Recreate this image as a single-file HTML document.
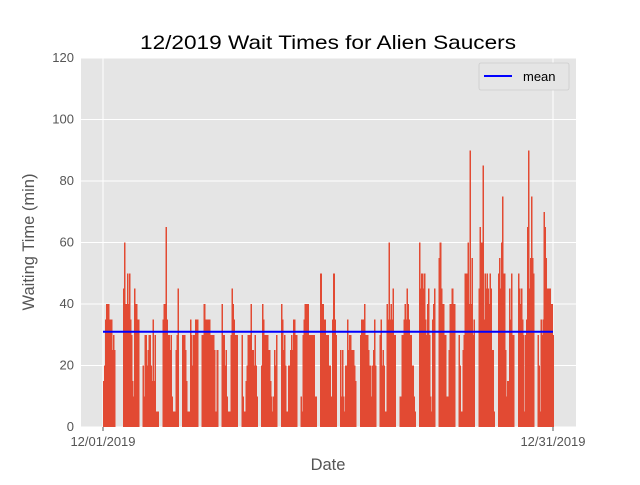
<!DOCTYPE html>
<html><head><meta charset="utf-8"><style>
body{margin:0;background:#fff;}
svg text{font-family:"Liberation Sans","DejaVu Sans",sans-serif;}
</style></head><body>
<svg id="chart" width="640" height="480" xmlns="http://www.w3.org/2000/svg">
<rect x="81" y="58" width="495" height="369" fill="#E5E5E5"/>
<g id="grid"></g>
<g id="bars" shape-rendering="crispEdges"></g>
<g id="meanline"></g>
<g id="ticks"></g>
<text x="328" y="49" font-size="19.5" text-anchor="middle" fill="#000" textLength="376" lengthAdjust="spacingAndGlyphs">12/2019 Wait Times for Alien Saucers</text>
<text x="328" y="470" font-size="16.5" text-anchor="middle" fill="#555">Date</text>
<text transform="translate(34,242) rotate(-90)" font-size="16.5" text-anchor="middle" fill="#555">Waiting Time (min)</text>
<g>
<rect x="479" y="63" width="90" height="27" rx="2" fill="#E5E5E5" stroke="#ccc" stroke-width="0.8"/>
<line x1="484" y1="76" x2="512" y2="76" stroke="#0000FF" stroke-width="2"/>
<text x="523" y="81" font-size="13" fill="#000">mean</text>
</g>
</svg>
<script>
const groupValues = [
[15,20,35,40,40,40,35,35,35,25,30,25],
[45,60,40,40,50,40,50,35,30,15,10,45,40,40,35,35],
[20,10,30,30,20,25,30,30,20,15,35,15,30,5,5,5],
[35,40,40,65,35,30,30,25,30,10,5,5,5,25,30,45],
[30,30,30,25,15,5,5,5,35,30,20,30,30,35,35,35],
[30,30,40,35,25,35,25,35,25,30,25,30,25,5,5,25],
[40,30,30,20,25,10,5,5,5,30,45,40,35,30,30,30],
[30,10,5,5,15,20,30,30,30,40,25,25,20,30,20,10],
[20,40,35,30,30,30,30,25,25,15,10,5,10,25,20,30],
[40,35,25,30,20,5,5,20,20,25,30,25,35,35,30,30],
[10,5,30,35,40,40,40,40,30,30,30,30,30,30,10,10],
[50,40,40,30,35,25,30,30,20,20,10,10,35,50,35,30],
[25,10,25,10,5,20,20,35,25,30,30,25,25,25,20,15],
[30,35,35,35,40,30,30,30,25,20,20,10,20,25,35,20],
[30,35,20,25,20,5,5,40,35,60,35,40,35,45,30,30],
[10,10,30,30,35,40,35,45,40,35,30,30,20,20,10,5],
[60,45,50,50,45,50,35,30,40,45,30,10,5,35,40,45],
[55,60,45,35,40,30,30,10,5,10,25,40,30,45,35,40],
[30,20,5,5,25,30,50,50,50,60,40,90,40,55,30,35],
[45,65,60,60,85,35,50,45,50,45,40,50,45,25,25,5],
[50,55,45,60,75,50,50,25,10,15,15,45,35,50,30,30],
[50,45,40,45,35,30,5,30,35,65,90,45,55,75,55,50],
[30,20,5,35,30,35,70,65,55,45,45,45,45,40,40,30]
];
const groupStartDays = [0,1.317,2.633,3.95,5.267,6.583,7.9,9.217,10.533,11.85,13.167,14.483,15.8,17.117,18.433,19.75,21.067,22.383,23.7,25.017,26.333,27.65,28.967];
const sampleStepDays = 1/15;
const yTicks = [0,20,40,60,80,100,120];
const xTickDays = [0,30];
const xTickLabels = ["12/01/2019","12/31/2019"];

const NS="http://www.w3.org/2000/svg";
const L=81,R=576,T=58,B=427;
const xMin=-22/15, xMax=30+23/15, yMin=0, yMax=120;
const xs=d=>L+(d-xMin)/(xMax-xMin)*(R-L);
const ys=v=>B-(v-yMin)/(yMax-yMin)*(B-T);
function mk(tag,attrs,parent){const e=document.createElementNS(NS,tag);for(const k in attrs)e.setAttribute(k,attrs[k]);parent.appendChild(e);return e;}
const grid=document.getElementById('grid'),bars=document.getElementById('bars'),ticks=document.getElementById('ticks'),ml=document.getElementById('meanline');
yTicks.forEach(v=>{
 const g=mk('line',{x1:L,x2:R,y1:ys(v),y2:ys(v),stroke:'#fff','stroke-width':1},grid);
 
 
 const t=mk('text',{x:L-7,y:ys(v)+4,'font-size':13,'text-anchor':'end',fill:'#555'},ticks);
 t.textContent=v;
 
 
});
xTickDays.forEach((d,i)=>{
 const g=mk('line',{x1:xs(d),x2:xs(d),y1:T,y2:B,stroke:'#fff','stroke-width':1},grid);
 
 
 const tk=mk('line',{x1:xs(d),x2:xs(d),y1:B,y2:B+4,stroke:'#555','stroke-width':1},ticks);
 
 
 const t=mk('text',{x:xs(d),y:B+19,'font-size':13,'text-anchor':'middle',fill:'#555'},ticks);
 t.textContent=xTickLabels[i];
 
 
});
let sum=0,n=0;
groupValues.forEach((vals,k)=>{
 vals.forEach((v,i)=>{
  const d=groupStartDays[k]+i*sampleStepDays;
  const x0=xs(d),x1=xs(d+sampleStepDays);
  const r=mk('rect',{x:x0,y:ys(v),width:(x1-x0)+0.6,height:ys(0)-ys(v),fill:'#E24A33'},bars);
  
  
  sum+=v;n++;
 });
});
const mean=sum/n;
const m=mk('line',{x1:xs(0),x2:xs(30),y1:ys(mean),y2:ys(mean),stroke:'#0000FF','stroke-width':2},ml);


</script>
</body></html>
